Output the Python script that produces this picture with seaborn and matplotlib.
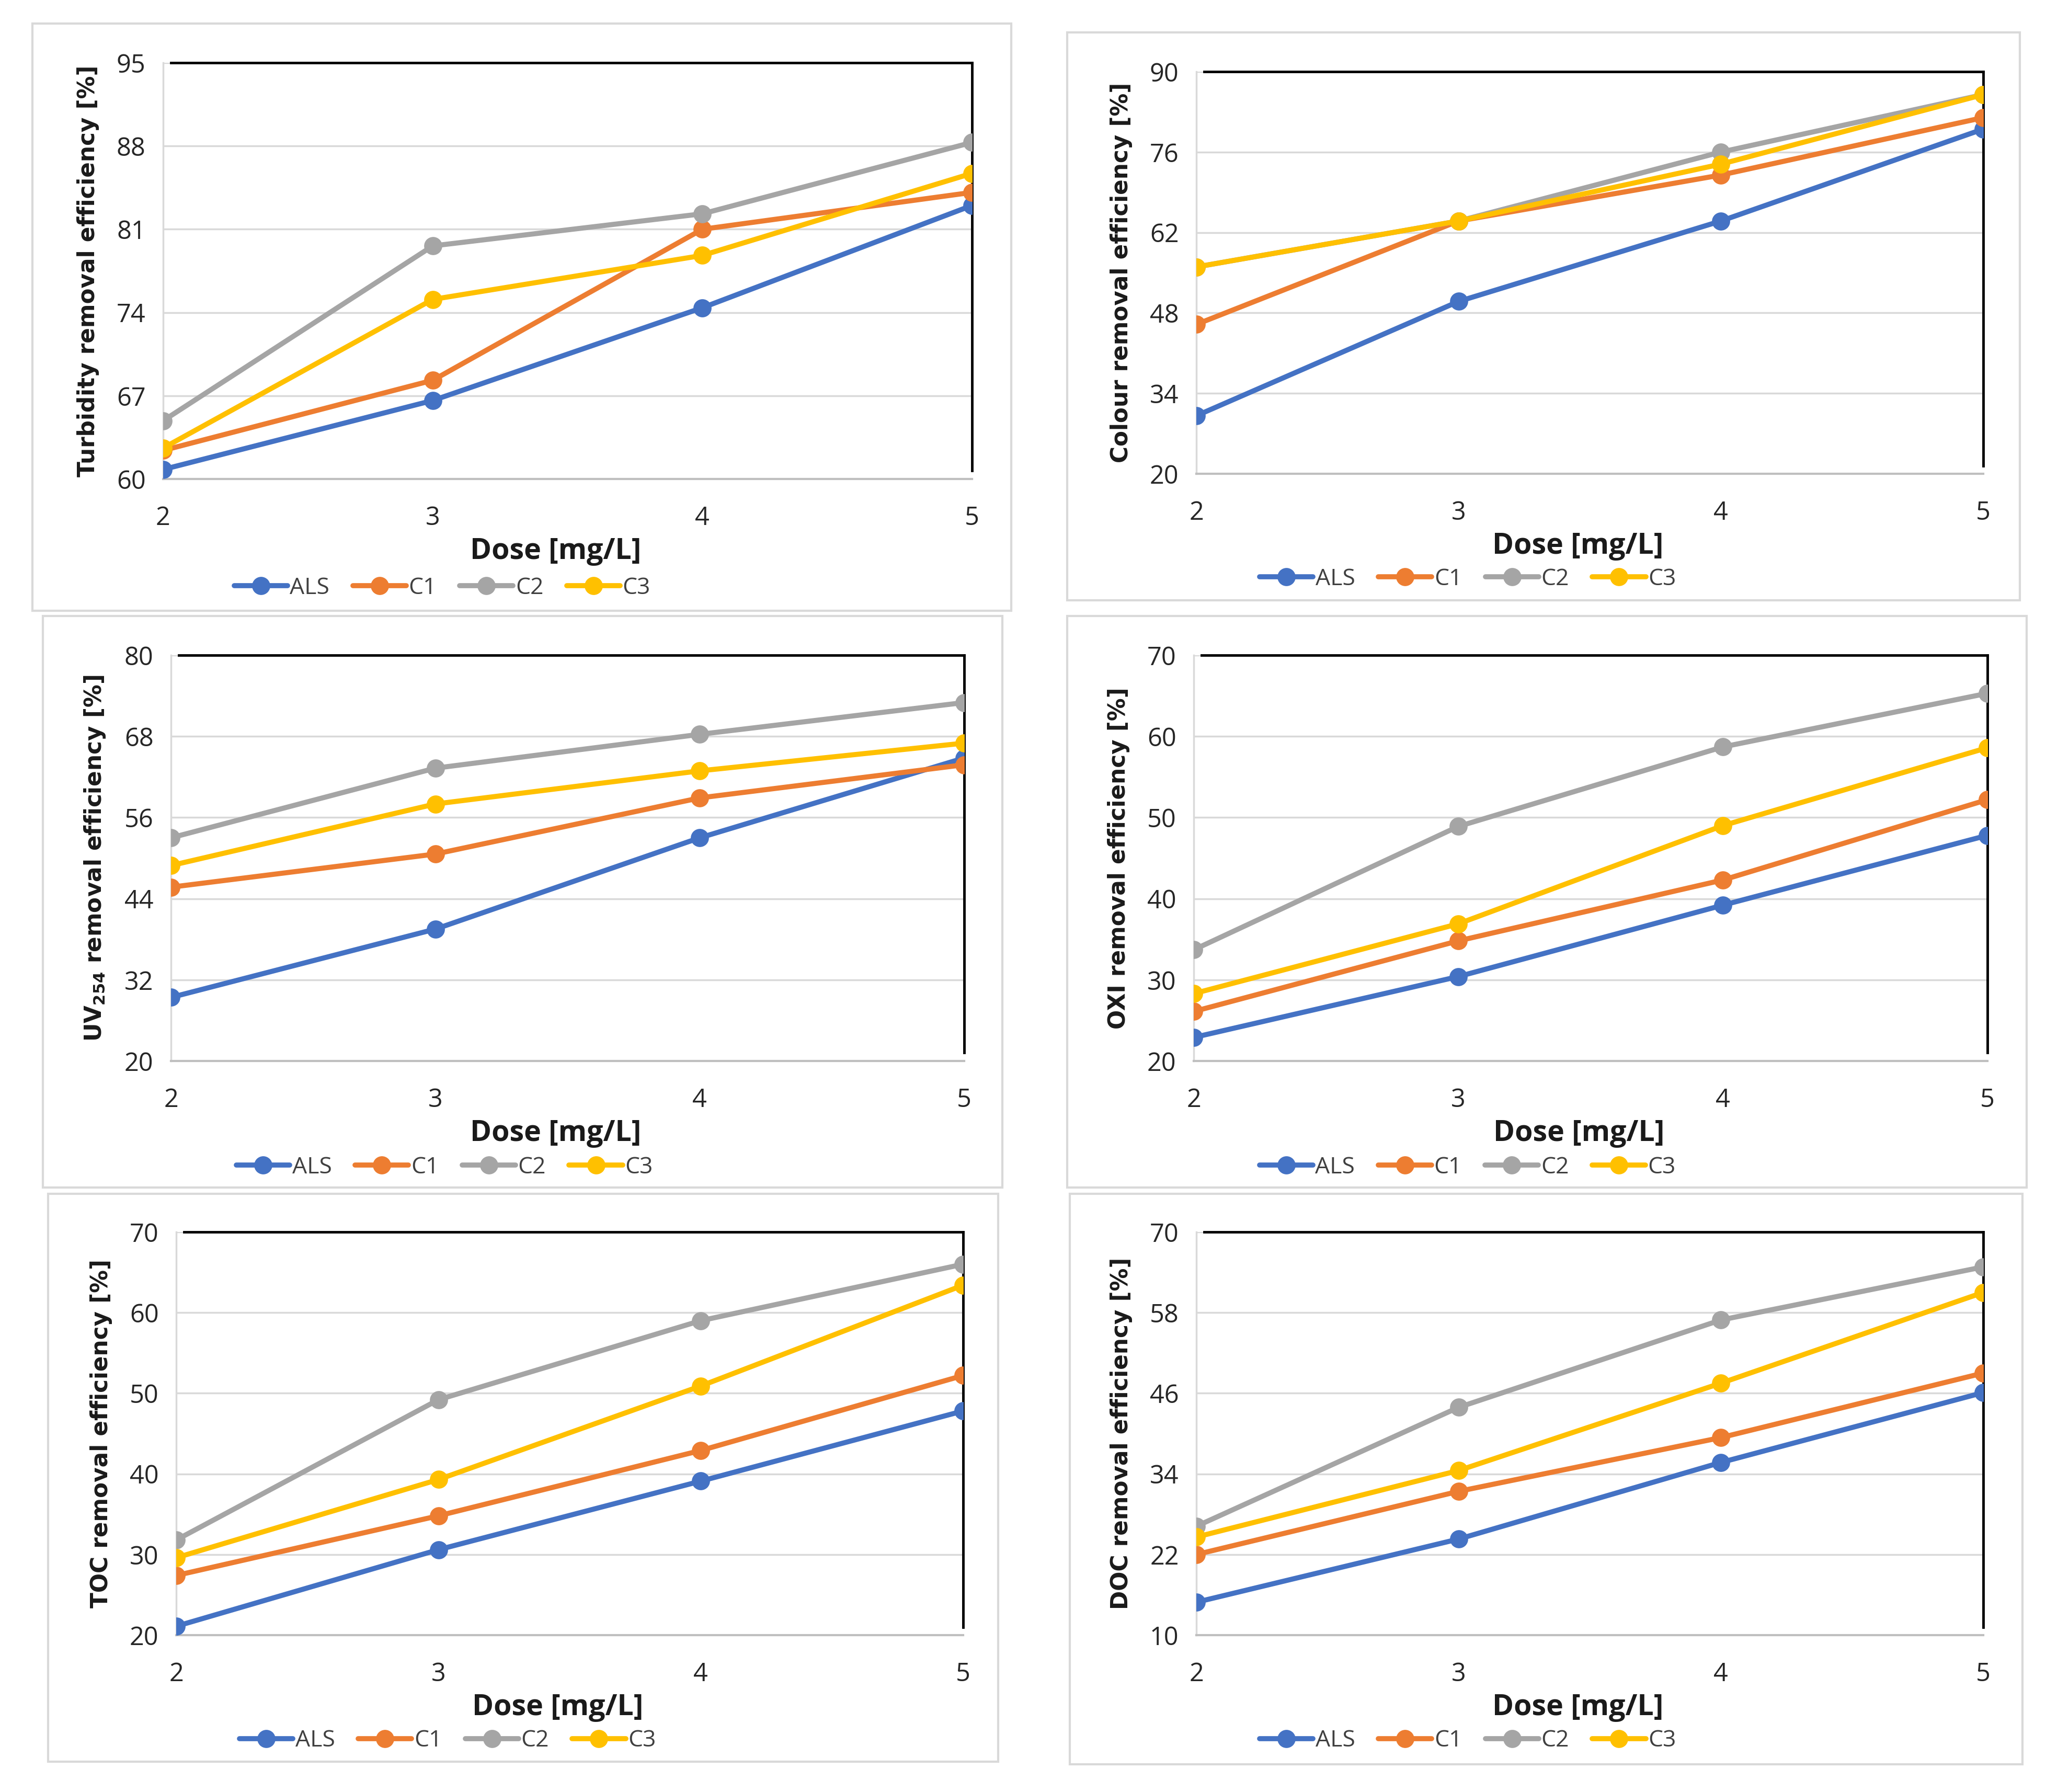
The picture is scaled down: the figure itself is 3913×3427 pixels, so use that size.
import numpy as np
import pandas as pd
import matplotlib
matplotlib.use("Agg")
import matplotlib.pyplot as plt
from matplotlib.patches import Rectangle
import seaborn as sns

sns.set_theme(style="white")
NARROW = ['Liberation Sans Narrow', 'Open Sans', 'DejaVu Sans']
plt.rcParams['font.family'] = NARROW

doses = [2, 3, 4, 5]
series_names = ["ALS", "C1", "C2", "C3"]
colors = ["#4472C4", "#ED7D31", "#A5A5A5", "#FFC000"]

# Turbidity
turb_ALS = [60.8, 66.6, 74.4, 83.0]
turb_C1 = [62.4, 68.3, 81.0, 84.1]
turb_C2 = [64.9, 79.6, 82.3, 88.3]
turb_C3 = [62.6, 75.1, 78.8, 85.7]
# Colour
col_ALS = [30.1, 50.0, 64.0, 80.0]
col_C1 = [46.0, 64.0, 72.0, 82.0]
col_C2 = [56.0, 64.0, 76.0, 86.0]
col_C3 = [56.0, 64.0, 73.9, 86.0]
# UV254
uv_ALS = [29.4, 39.5, 53.0, 64.8]
uv_C1 = [45.7, 50.6, 58.9, 63.8]
uv_C2 = [53.0, 63.3, 68.3, 73.0]
uv_C3 = [48.9, 58.0, 62.9, 67.0]
# OXI
oxi_ALS = [22.9, 30.4, 39.2, 47.8]
oxi_C1 = [26.1, 34.8, 42.3, 52.2]
oxi_C2 = [33.7, 48.9, 58.7, 65.3]
oxi_C3 = [28.3, 36.9, 49.0, 58.6]
# TOC
toc_ALS = [21.1, 30.6, 39.1, 47.8]
toc_C1 = [27.4, 34.8, 42.9, 52.2]
toc_C2 = [31.8, 49.2, 59.0, 66.0]
toc_C3 = [29.6, 39.3, 50.9, 63.4]
# DOC
doc_ALS = [14.9, 24.3, 35.7, 46.1]
doc_C1 = [22.0, 31.4, 39.4, 49.0]
doc_C2 = [26.2, 43.9, 56.9, 64.8]
doc_C3 = [24.6, 34.5, 47.5, 61.0]

ylabels = ["Turbidity removal efficiency [%]", "Colour removal efficiency [%]",
           r"UV$_{\mathbf{254}}$ removal efficiency [%]", "OXI removal efficiency [%]",
           "TOC removal efficiency [%]", "DOC removal efficiency [%]"]
yticks_list = [[60, 67, 74, 81, 88, 95], [20, 34, 48, 62, 76, 90],
               [20, 32, 44, 56, 68, 80], [20, 30, 40, 50, 60, 70],
               [20, 30, 40, 50, 60, 70], [10, 22, 34, 46, 58, 70]]
panel_data = [
    [turb_ALS, turb_C1, turb_C2, turb_C3],
    [col_ALS, col_C1, col_C2, col_C3],
    [uv_ALS, uv_C1, uv_C2, uv_C3],
    [oxi_ALS, oxi_C1, oxi_C2, oxi_C3],
    [toc_ALS, toc_C1, toc_C2, toc_C3],
    [doc_ALS, doc_C1, doc_C2, doc_C3],
]

W, H = 3913, 3427
fig = plt.figure(figsize=(W / 100, H / 100), dpi=100)

def fx(px):
    return px / W

def fy(py):
    return 1 - py / H

# axes rectangles in pixel coords (left, top, right, bottom)
ax_px = [(312, 120, 1859, 916), (2288, 137, 3793, 906),
         (327, 1253, 1844, 2029), (2283, 1253, 3801, 2029),
         (337, 2356, 1842, 3127), (2288, 2356, 3793, 3127)]
box_px = [(62, 45, 1934, 1168), (2041, 62, 3863, 1148),
          (82, 1178, 1917, 2271), (2041, 1178, 3876, 2271),
          (92, 2283, 1909, 3369), (2046, 2283, 3868, 3374)]

for (l, t, r, b) in box_px:
    fig.patches.append(Rectangle((fx(l), fy(b)), fx(r) - fx(l), fy(t) - fy(b),
                                 transform=fig.transFigure, fill=False,
                                 edgecolor="#d9d9d9", linewidth=3))

for i in range(6):
    l, t, r, b = ax_px[i]
    ax = fig.add_axes([fx(l), fy(b), fx(r) - fx(l), fy(t) - fy(b)])
    rows = []
    for name, vals in zip(series_names, panel_data[i]):
        for d, v in zip(doses, vals):
            rows.append({"Dose": d, "Value": v, "Series": name})
    df = pd.DataFrame(rows)
    sns.lineplot(data=df, x="Dose", y="Value", hue="Series", hue_order=series_names,
                 palette=colors, marker="o", markersize=25, linewidth=7,
                 markeredgewidth=0, ax=ax, legend=True, zorder=3)
    yt = yticks_list[i]
    ax.set_ylim(yt[0], yt[-1])
    ax.set_xlim(2, 5)
    ax.set_yticks(yt)
    ax.set_xticks(doses)
    ax.grid(axis="y", color="#d9d9d9", linewidth=2.5, zorder=0)
    ax.grid(axis="x", visible=False)
    ax.tick_params(axis="y", length=0, pad=24, labelsize=35, labelcolor="#262626")
    ax.tick_params(axis="x", length=12, width=2, direction="in", color="#bfbfbf",
                   pad=36, labelsize=35, labelcolor="#262626")
    for lab in ax.get_xticklabels() + ax.get_yticklabels():
        lab.set_fontfamily(NARROW)
    ax.spines["left"].set_color("#d9d9d9")
    ax.spines["left"].set_linewidth(2.5)
    ax.spines["bottom"].set_color("#bfbfbf")
    ax.spines["bottom"].set_linewidth(3)
    ax.spines["top"].set_color("black")
    ax.spines["top"].set_linewidth(3.5)
    ax.spines["top"].set_bounds(2.03, 5)
    rng = yt[-1] - yt[0]
    ax.spines["right"].set_color("black")
    ax.spines["right"].set_linewidth(3.5)
    ax.spines["right"].set_bounds(yt[0] + 0.02 * rng, yt[-1])
    ax.set_ylabel(ylabels[i], fontsize=31.5, fontweight="bold", family=["DejaVu Sans"],
                  labelpad=24, color="#1a1a1a")
    ax.set_xlabel("Dose [mg/L]", fontsize=40, fontweight="bold", family=NARROW,
                  labelpad=8, color="#1a1a1a")
    ax.xaxis.label.set_x(0.485)
    leg = ax.legend(loc="center", bbox_to_anchor=(0.345, -0.262), ncol=4,
                    frameon=False, fontsize=32, handlelength=2.3, columnspacing=1.0,
                    handletextpad=0.1, borderaxespad=0)
    for txt in leg.get_texts():
        txt.set_color("#404040")
        txt.set_fontfamily(NARROW)

fig.savefig("out.png", dpi=100, facecolor="white")
